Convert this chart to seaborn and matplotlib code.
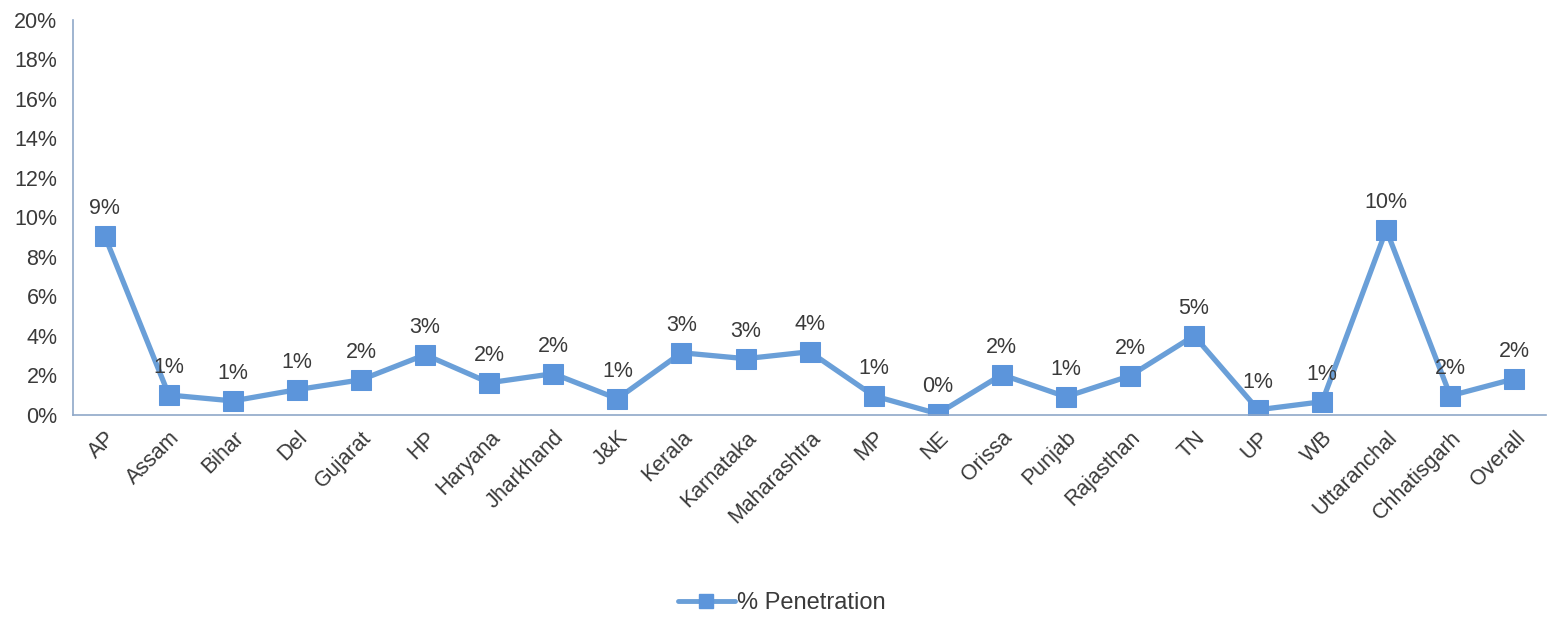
import matplotlib
matplotlib.use("Agg")
import matplotlib.pyplot as plt
import seaborn as sns
import pandas as pd
from matplotlib.ticker import FixedLocator, PercentFormatter
from matplotlib.lines import Line2D

states = ["AP", "Assam", "Bihar", "Del", "Gujarat", "HP", "Haryana", "Jharkhand",
          "J&K", "Kerala", "Karnataka", "Maharashtra", "MP", "NE", "Orissa",
          "Punjab", "Rajasthan", "TN", "UP", "WB", "Uttaranchal", "Chhatisgarh", "Overall"]
penetration = [9.05, 1.0, 0.7, 1.27, 1.77, 3.04, 1.62, 2.08, 0.81, 3.14, 2.84, 3.19,
               0.96, 0.05, 2.03, 0.91, 1.97, 4.0, 0.25, 0.66, 9.37, 0.96, 1.82]
point_labels = ["9%", "1%", "1%", "1%", "2%", "3%", "2%", "2%", "1%", "3%", "3%", "4%",
                "1%", "0%", "2%", "1%", "2%", "5%", "1%", "1%", "10%", "2%", "2%"]
y_ticks = [0, 2, 4, 6, 8, 10, 12, 14, 16, 18, 20]

sns.set_theme(style="white")
plt.rcParams["font.family"] = ["Liberation Sans", "DejaVu Sans"]

df = pd.DataFrame({"pos": range(len(states)), "value": penetration})

fig = plt.figure(figsize=(15.48, 6.42), dpi=100)
ax = fig.add_axes([0.047, 0.354, 0.952, 0.615])

line_color = "#6A9FD8"
marker_color = "#5C95DB"
text_color = "#3A3A3A"
sns.lineplot(data=df, x="pos", y="value", ax=ax, color=line_color, linewidth=3.8,
             marker="s", markersize=14, markerfacecolor=marker_color,
             markeredgecolor=marker_color, legend=False)

for i, (v, lab) in enumerate(zip(penetration, point_labels)):
    ax.annotate(lab, (i, v), xytext=(0, 12), textcoords="offset points",
                ha="center", va="bottom", fontsize=15.5, color=text_color)

ax.set_xlim(-0.5, len(states) - 0.5)
ax.set_ylim(0, 20)
ax.yaxis.set_major_locator(FixedLocator(y_ticks))
ax.yaxis.set_major_formatter(PercentFormatter(decimals=0))
ax.set_xticks(range(len(states)))
ax.set_xticklabels(states, rotation=45, ha="right", rotation_mode="anchor",
                   fontsize=15.5, color=text_color)
ax.set_xticks([k + 0.5 for k in range(-1, len(states))], minor=True)
ax.tick_params(axis="x", which="major", length=0, pad=9)
ax.tick_params(axis="x", which="minor", length=6, width=1, color="#8FA8C8", direction="out")
ax.tick_params(axis="y", which="major", length=6, width=1, color="#8FA8C8",
               direction="out", labelsize=15.5, labelcolor=text_color, pad=5)
ax.set_xlabel("")
ax.set_ylabel("")
for side in ["top", "right"]:
    ax.spines[side].set_visible(False)
for side in ["left", "bottom"]:
    ax.spines[side].set_color("#8FA8C8")
    ax.spines[side].set_linewidth(1.2)

handles = [Line2D([], [], color=line_color, linewidth=3.5, marker="s",
                  markersize=10, markerfacecolor=marker_color, markeredgecolor=marker_color)]
labels = ["% Penetration"]
fig.legend(handles, labels, loc="center", bbox_to_anchor=(0.505, 0.06), frameon=False,
           fontsize=17, handlelength=2.4, handletextpad=0.1, labelcolor=text_color)

fig.savefig("out.png", dpi=100, facecolor="white")
